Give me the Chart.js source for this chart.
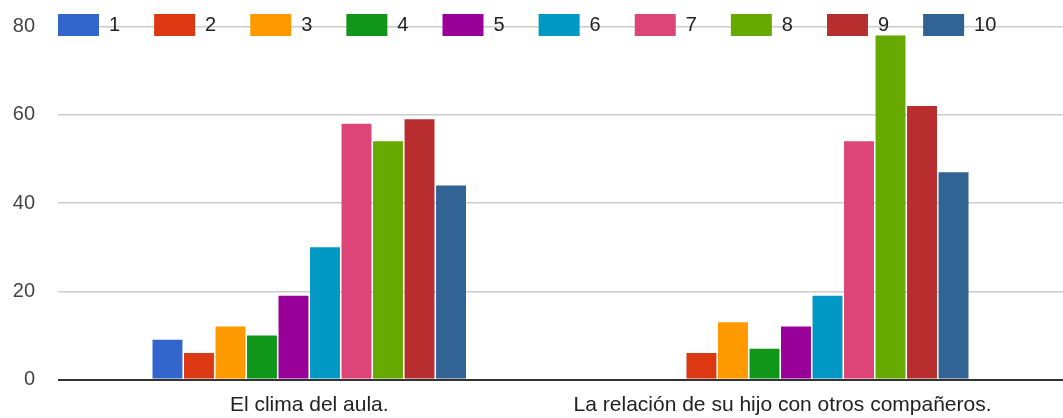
<!DOCTYPE html>
<html>
<head>
<meta charset="utf-8">
<script src="https://cdn.jsdelivr.net/npm/chart.js@4"></script>
<style>
  html, body { margin: 0; padding: 0; background: #fff; }
  #wrap { width: 1063px; height: 418px; }
</style>
</head>
<body>
<div id="wrap"><canvas id="chart"></canvas></div>
<script>
const categories = ['El clima del aula.', 'La relación de su hijo con otros compañeros.'];
const ratings = ['1', '2', '3', '4', '5', '6', '7', '8', '9', '10'];
const colors = ['#3366cc', '#dc3912', '#ff9900', '#109618', '#990099',
                '#0099c6', '#dd4477', '#66aa00', '#b82e2e', '#316395'];
// counts per rating, one array per question
const climaAula = [9, 6, 12, 10, 19, 30, 58, 54, 59, 44];
const relacionCompaneros = [0, 6, 13, 7, 12, 19, 54, 78, 62, 47];
const yTicks = [0, 20, 40, 60, 80];

Chart.defaults.font.family = '"Liberation Sans", Arial, sans-serif';
Chart.defaults.animation = false;

const datasets = ratings.map((r, i) => ({
    label: r,
    data: [climaAula[i], relacionCompaneros[i]],
    backgroundColor: colors[i],
    borderWidth: 0,
    barPercentage: 0.95,
    categoryPercentage: 0.627
}));

// the legend sits on the top gridline, like the google chart it comes from
const legendOnTopLine = {
    id: 'legendOnTopLine',
    afterLayout(chart) {
        const lg = chart.legend;
        lg.top = -20;
        lg.bottom = 60;
        lg.height = 80;
        lg.left = 24;
    }
};

const ctx = document.getElementById('chart').getContext('2d');
new Chart(ctx, {
    type: 'bar',
    data: {
        labels: categories,
        datasets: datasets
    },
    plugins: [legendOnTopLine],
    options: {
        responsive: true,
        maintainAspectRatio: false,
        layout: {
            padding: 0
        },
        plugins: {
            tooltip: { enabled: false },
            legend: {
                position: 'top',
                align: 'start',
                maxHeight: 26.7,
                labels: {
                    boxWidth: 41,
                    boxHeight: 22,
                    padding: 34,
                    color: '#222',
                    font: { size: 20 }
                }
            }
        },
        scales: {
            x: {
                grid: { display: false, drawTicks: false },
                border: { display: false },
                ticks: {
                    color: '#222',
                    padding: 13,
                    maxRotation: 0,
                    font: { size: 21 },
                    // google nudged the long label to the left
                    callback: function (value, index) {
                        const label = this.getLabelForValue(value);
                        return index === 1 ? label + '\u00a0'.repeat(10) : label;
                    }
                },
                afterFit: function (scale) { scale.height = 38.5; }
            },
            y: {
                min: 0,
                max: 80,
                afterBuildTicks: function (scale) {
                    scale.ticks = yTicks.map(v => ({ value: v }));
                },
                grid: {
                    drawTicks: false,
                    color: c => c.tick && c.tick.value === 0 ? '#333' : '#ccc',
                    lineWidth: c => c.tick && c.tick.value === 0 ? 2 : 1.5
                },
                border: { display: false },
                ticks: {
                    color: '#444',
                    padding: 23,
                    font: { size: 20 }
                },
                afterFit: function (scale) {
                    scale.width = 58;
                    scale.paddingTop = 12;
                }
            }
        }
    }
});
</script>
</body>
</html>
